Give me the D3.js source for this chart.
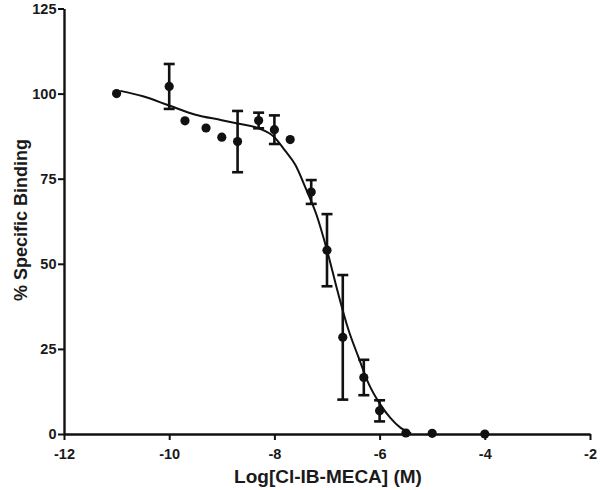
<!DOCTYPE html>
<html>
<head>
<meta charset="utf-8">
<script src="https://cdn.jsdelivr.net/npm/d3@7"></script>
<style>
  html, body { margin: 0; padding: 0; background: #fff; }
  svg { display: block; font-family: Arial, "Liberation Sans", sans-serif; }
</style>
</head>
<body>
<svg id="chart" width="600" height="490"></svg>
<script>
// Data points: log concentration, mean % specific binding, SEM (null = no bar)
const logConc = [-11, -10, -9.7, -9.3, -9, -8.7, -8.3, -8, -7.7, -7.3, -7, -6.7, -6.3, -6, -5.5, -5, -4];
const binding = [100, 102.1, 92.0, 89.9, 87.2, 85.9, 92.1, 89.4, 86.5, 71.1, 54.0, 28.4, 16.6, 6.8, 0.3, 0.2, 0.0];
const sem     = [null, 6.6, null, null, null, 9.0, 2.3, 4.2, null, 3.5, 10.6, 18.3, 5.2, 3.1, null, null, null];

// Fitted curve
const curveX = [-10.93, -10.5, -10, -9.5, -9, -8.7, -8.3, -8, -7.8, -7.6, -7.4, -7.2, -7, -6.8, -6.6, -6.4, -6.2, -6, -5.8, -5.6, -5.4];
const curveY = [100.8, 99.2, 96.5, 93.8, 92.2, 91.2, 89.8, 87.2, 83.3, 79, 72, 64.4, 54, 42, 31, 22.5, 14.5, 9, 4.8, 1.8, 0.2];

// Axis ticks
const xTicks = [-12, -10, -8, -6, -4, -2];
const yTicks = [0, 25, 50, 75, 100, 125];

const svg = d3.select("#chart");
const x = d3.scaleLinear().domain([-12, -2]).range([64, 590]);
const y = d3.scaleLinear().domain([0, 125]).range([434, 8.5]);

const ink = "#111";

// Axes
const xAxis = d3.axisBottom(x).tickValues(xTicks).tickFormat(d => String(d)).tickSize(6).tickSizeOuter(0);
const yAxis = d3.axisLeft(y).tickValues(yTicks).tickFormat(d => String(d)).tickSize(6).tickSizeOuter(0);

const gx = svg.append("g").attr("transform", `translate(0,${y(0)})`).call(xAxis);
const gy = svg.append("g").attr("transform", `translate(${x(-12)},0)`).call(yAxis);

[gx, gy].forEach(g => {
  g.select(".domain").attr("stroke", ink).attr("stroke-width", 2.4);
  g.selectAll(".tick line").attr("stroke", ink).attr("stroke-width", 2);
  g.selectAll(".tick text").attr("fill", "#1a1a1a").attr("font-size", 14.5).attr("font-weight", "bold");
});
gx.selectAll(".tick text").attr("dy", "1.1em");
gy.selectAll(".tick text").attr("dx", "0.1em");

// Axis titles
svg.append("text")
  .attr("x", (x(-12) + x(-2)) / 2 + 1)
  .attr("y", 483)
  .attr("text-anchor", "middle")
  .attr("font-size", 19)
  .attr("font-weight", "bold")
  .attr("fill", "#1a1a1a")
  .text("Log[Cl-IB-MECA] (M)");

svg.append("text")
  .attr("transform", `translate(27,${220}) rotate(-90)`)
  .attr("text-anchor", "middle")
  .attr("font-size", 18)
  .attr("font-weight", "bold")
  .attr("fill", "#1a1a1a")
  .text("% Specific Binding");

// Fitted curve
const curveData = curveX.map((v, i) => [v, curveY[i]]);
svg.append("path")
  .datum(curveData)
  .attr("fill", "none")
  .attr("stroke", ink)
  .attr("stroke-width", 2)
  .attr("d", d3.line().x(d => x(d[0])).y(d => y(d[1])).curve(d3.curveMonotoneX));

// Points data
const pts = logConc.map((v, i) => ({ x: v, y: binding[i], e: sem[i] }));

// Error bars
const eb = svg.append("g").attr("stroke", ink).attr("stroke-width", 2.6);
pts.filter(d => d.e != null).forEach(d => {
  const cx = x(d.x);
  eb.append("line").attr("x1", cx).attr("x2", cx).attr("y1", y(d.y - d.e)).attr("y2", y(d.y + d.e));
  eb.append("line").attr("x1", cx - 5.5).attr("x2", cx + 5.5).attr("y1", y(d.y + d.e)).attr("y2", y(d.y + d.e));
  eb.append("line").attr("x1", cx - 5.5).attr("x2", cx + 5.5).attr("y1", y(d.y - d.e)).attr("y2", y(d.y - d.e));
});

// Markers
svg.append("g").selectAll("circle").data(pts).join("circle")
  .attr("cx", d => x(d.x))
  .attr("cy", d => y(d.y))
  .attr("r", 4.6)
  .attr("fill", ink);
</script>
</body>
</html>
